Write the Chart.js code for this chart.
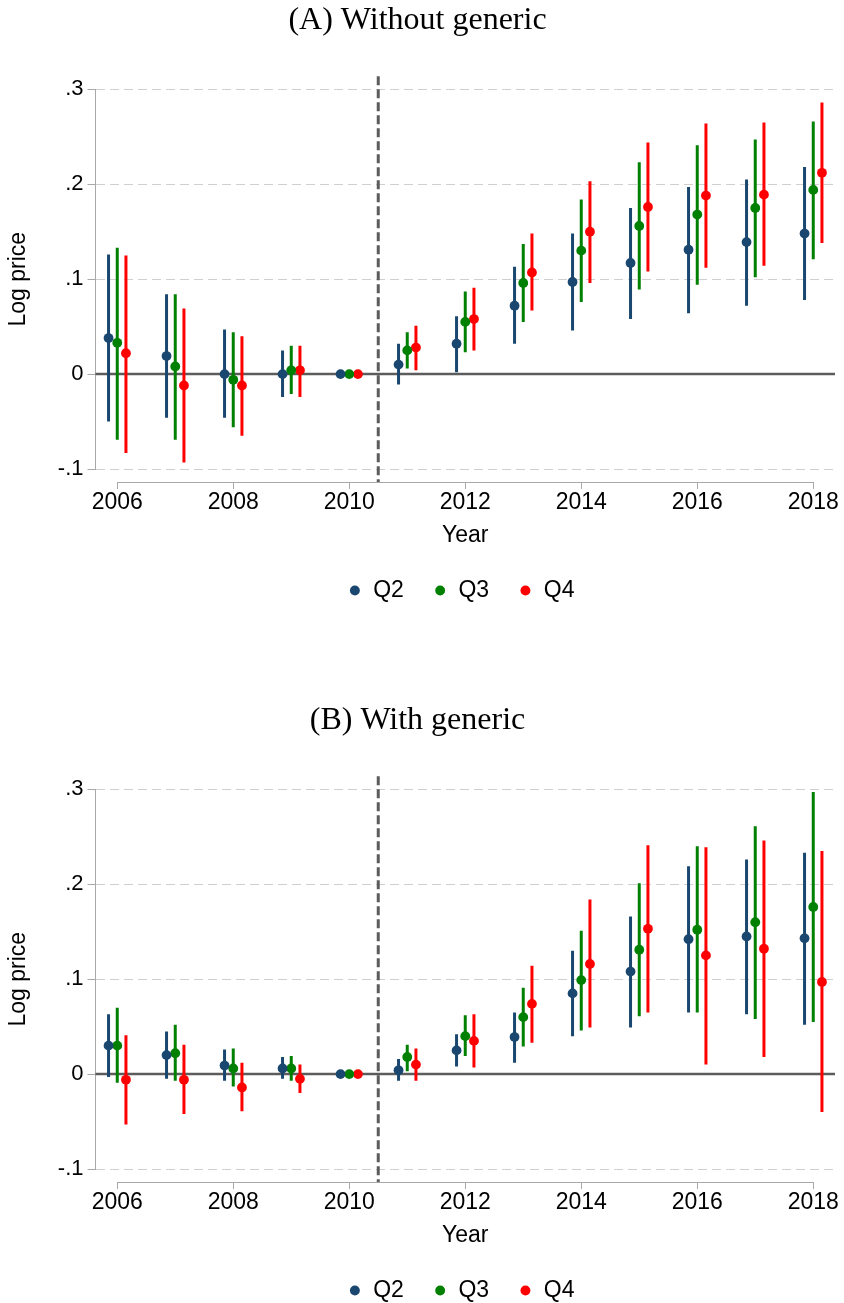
<!DOCTYPE html>
<html>
<head>
<meta charset="utf-8">
<title>Log price by quartile</title>
<script src="https://cdn.jsdelivr.net/npm/chart.js@4.4.1/dist/chart.umd.min.js"></script>
<style>
  html, body { margin: 0; padding: 0; background: #ffffff; width: 844px; height: 1303px; overflow: hidden; }
  #page { position: relative; width: 844px; height: 1303px; overflow: hidden; }
  .panel { position: absolute; left: 0; width: 844px; height: 612px; }
</style>
</head>
<body>
<div id="page">
  <div class="panel" style="top:0"><canvas id="chartA" width="844" height="612"></canvas></div>
  <div class="panel" style="top:700px"><canvas id="chartB" width="844" height="612"></canvas></div>
</div>
<script>
// ---- data -------------------------------------------------------------
const years = [2006, 2007, 2008, 2009, 2010, 2011, 2012, 2013, 2014, 2015, 2016, 2017, 2018];
const xTickValues = [2006, 2008, 2010, 2012, 2014, 2016, 2018];
const yTickValues = [-0.1, 0, 0.1, 0.2, 0.3];
const yTickLabels = ['-.1', '0', '.1', '.2', '.3'];
const seriesNames = ['Q2', 'Q3', 'Q4'];
const panelTitles = ['(A) Without generic', '(B) With generic'];
const referenceYear = 2010.5;   // vertical break line
const zeroLevel = 0;

// (A) Without generic: point estimates and 95% bounds (2010 is the base year)
const A_Q2_est = [0.038, 0.019, 0.000, 0.000, 0.000, 0.010, 0.032, 0.072, 0.097, 0.117, 0.131, 0.139, 0.148];
const A_Q2_lo  = [-0.050, -0.046, -0.046, -0.024, null, -0.011, 0.002, 0.032, 0.046, 0.058, 0.064, 0.072, 0.078];
const A_Q2_hi  = [0.126, 0.084, 0.047, 0.025, null, 0.032, 0.061, 0.113, 0.148, 0.175, 0.197, 0.205, 0.218];
const A_Q3_est = [0.033, 0.008, -0.006, 0.004, 0.000, 0.025, 0.055, 0.096, 0.130, 0.156, 0.168, 0.175, 0.194];
const A_Q3_lo  = [-0.069, -0.069, -0.056, -0.021, null, 0.006, 0.023, 0.055, 0.076, 0.089, 0.094, 0.102, 0.121];
const A_Q3_hi  = [0.133, 0.084, 0.044, 0.030, null, 0.044, 0.087, 0.137, 0.184, 0.223, 0.241, 0.247, 0.266];
const A_Q4_est = [0.022, -0.012, -0.012, 0.004, 0.000, 0.028, 0.058, 0.107, 0.150, 0.176, 0.188, 0.189, 0.212];
const A_Q4_lo  = [-0.083, -0.093, -0.065, -0.024, null, 0.004, 0.025, 0.067, 0.096, 0.108, 0.112, 0.114, 0.138];
const A_Q4_hi  = [0.125, 0.069, 0.040, 0.030, null, 0.051, 0.091, 0.148, 0.203, 0.244, 0.264, 0.265, 0.286];

// (B) With generic
const B_Q2_est = [0.030, 0.020, 0.009, 0.006, 0.000, 0.004, 0.025, 0.039, 0.085, 0.108, 0.142, 0.145, 0.143];
const B_Q2_lo  = [-0.003, -0.005, -0.007, -0.005, null, -0.007, 0.008, 0.012, 0.040, 0.049, 0.065, 0.063, 0.052];
const B_Q2_hi  = [0.063, 0.045, 0.026, 0.018, null, 0.016, 0.042, 0.065, 0.130, 0.166, 0.219, 0.226, 0.233];
const B_Q3_est = [0.030, 0.022, 0.006, 0.006, 0.000, 0.018, 0.040, 0.060, 0.099, 0.131, 0.152, 0.160, 0.176];
const B_Q3_lo  = [-0.009, -0.007, -0.013, -0.007, null, 0.003, 0.019, 0.029, 0.046, 0.061, 0.065, 0.058, 0.055];
const B_Q3_hi  = [0.070, 0.052, 0.027, 0.019, null, 0.031, 0.062, 0.091, 0.151, 0.201, 0.240, 0.261, 0.297];
const B_Q4_est = [-0.006, -0.006, -0.014, -0.005, 0.000, 0.010, 0.035, 0.074, 0.116, 0.153, 0.125, 0.132, 0.097];
const B_Q4_lo  = [-0.053, -0.042, -0.039, -0.020, null, -0.007, 0.007, 0.033, 0.049, 0.065, 0.010, 0.018, -0.040];
const B_Q4_hi  = [0.041, 0.031, 0.012, 0.010, null, 0.027, 0.063, 0.114, 0.184, 0.241, 0.239, 0.246, 0.235];

// ---- styling ------------------------------------------------------------
const seriesColors = ['#1a476f', '#008000', '#ff0000'];
const seriesShift = [-0.15, 0, 0.15];   // horizontal dodge within a year
const axisGray = '#a8a8a8';
const refGray = '#5c5c5c';
const SANS = "'Liberation Sans', Arial, sans-serif";
const SERIF = "'Liberation Serif', 'Times New Roman', serif";

Chart.defaults.font.family = SANS;
Chart.defaults.color = '#000000';

// Interval whiskers: one segment per year, broken by null points
function intervalPoints(shift, lo, hi) {
  const pts = [];
  years.forEach((yr, i) => {
    if (lo[i] === null || hi[i] === null) return;
    pts.push({ x: yr + shift, y: lo[i] }, { x: yr + shift, y: hi[i] }, { x: yr + shift, y: null });
  });
  return pts;
}
function estimatePoints(shift, est) {
  return years.map((yr, i) => ({ x: yr + shift, y: est[i] }));
}

function buildDatasets(groups) {
  const sets = [];
  groups.forEach((g, k) => {
    sets.push({
      type: 'line',
      label: seriesNames[k] + ' interval',
      data: intervalPoints(seriesShift[k], g.lo, g.hi),
      borderColor: seriesColors[k],
      backgroundColor: seriesColors[k],
      borderWidth: 3,
      borderCapStyle: 'butt',
      pointRadius: 0,
      spanGaps: false,
      fill: false,
      tension: 0,
      order: 2
    });
  });
  groups.forEach((g, k) => {
    sets.push({
      type: 'line',
      label: seriesNames[k],
      data: estimatePoints(seriesShift[k], g.est),
      showLine: false,
      borderColor: seriesColors[k],
      backgroundColor: seriesColors[k],
      pointBackgroundColor: seriesColors[k],
      pointBorderColor: seriesColors[k],
      pointBorderWidth: 0,
      borderWidth: 0,
      pointRadius: 4.9,
      pointStyle: 'circle',
      order: 1
    });
  });
  return sets;
}

// Axis lines, zero line and the dashed break line
const frameLines = {
  id: 'frameLines',
  beforeDatasetsDraw(chart) {
    const { ctx, chartArea: a, scales: { x, y } } = chart;
    ctx.save();
    ctx.strokeStyle = axisGray;
    ctx.lineWidth = 1;
    ctx.beginPath();
    const axX = a.left;
    ctx.moveTo(axX, y.getPixelForValue(yTickValues[yTickValues.length - 1]));
    ctx.lineTo(axX, y.getPixelForValue(yTickValues[0]));
    const axY = Math.round(a.bottom) + 0.5;
    ctx.moveTo(x.getPixelForValue(xTickValues[0]), axY);
    ctx.lineTo(x.getPixelForValue(xTickValues[xTickValues.length - 1]), axY);
    ctx.stroke();

    ctx.strokeStyle = refGray;
    ctx.lineWidth = 2.5;
    ctx.beginPath();
    const zy = y.getPixelForValue(zeroLevel);
    ctx.moveTo(a.left, zy);
    ctx.lineTo(a.right, zy);
    ctx.stroke();

    ctx.lineWidth = 3;
    ctx.setLineDash([9, 4]);
    ctx.beginPath();
    const bx = x.getPixelForValue(referenceYear);
    ctx.moveTo(bx, a.top);
    ctx.lineTo(bx, a.bottom);
    ctx.stroke();
    ctx.restore();
  }
};

// Keep the legend centred under the plotting region
const legendUnderPlot = {
  id: 'legendUnderPlot',
  afterLayout(chart) {
    const lg = chart.legend;
    const a = chart.chartArea;
    if (!lg) return;
    lg.left = a.left - 4;
    lg.right = a.right - 4;
    lg.width = lg.right - lg.left;
  }
};

function makePanel(canvasId, title, groups) {
  return new Chart(document.getElementById(canvasId), {
    type: 'line',
    data: { datasets: buildDatasets(groups) },
    plugins: [frameLines, legendUnderPlot],
    options: {
      responsive: false,
      animation: false,
      events: [],
      layout: { padding: { left: 0, right: 9, top: 0, bottom: 0 } },
      plugins: {
        tooltip: { enabled: false },
        title: {
          display: true,
          text: title,
          color: '#000000',
          font: { family: SERIF, size: 32, weight: 'normal' },
          padding: { top: 1.6, bottom: 36.3 }
        },
        legend: {
          display: true,
          position: 'bottom',
          align: 'center',
          labels: {
            usePointStyle: true,
            boxWidth: 13.6,
            boxHeight: 7,
            padding: 29.5,
            color: '#000000',
            font: { family: SANS, size: 23 },
            filter: (item) => seriesNames.includes(item.text)
          }
        }
      },
      scales: {
        x: {
          type: 'linear',
          min: 2005.625,
          max: 2018.375,
          afterBuildTicks: (scale) => { scale.ticks = xTickValues.map(v => ({ value: v })); },
          ticks: {
            autoSkip: false,
            maxRotation: 0,
            padding: 0,
            color: '#000000',
            font: { family: SANS, size: 23 },
            callback: (v) => String(v)
          },
          grid: {
            display: true,
            drawOnChartArea: false,
            drawTicks: true,
            tickLength: 7,
            tickColor: axisGray,
            tickWidth: 1
          },
          border: { display: false },
          title: {
            display: true,
            text: 'Year',
            color: '#000000',
            font: { family: SANS, size: 23 },
            padding: { top: 5.3, bottom: 0 }
          }
        },
        y: {
          type: 'linear',
          min: -0.1136,
          max: 0.3136,
          afterBuildTicks: (scale) => { scale.ticks = yTickValues.map(v => ({ value: v })); },
          afterFit: (scale) => { scale.width = 95.5; },
          ticks: {
            autoSkip: false,
            padding: 4,
            color: '#000000',
            font: { family: SANS, size: 22 },
            callback: (v) => yTickLabels[yTickValues.indexOf(v)]
          },
          grid: {
            display: true,
            color: '#cfcfcf',
            lineWidth: 1,
            drawTicks: true,
            tickLength: 8,
            tickColor: axisGray,
            tickWidth: 1,
            tickBorderDash: []
          },
          border: { display: false, dash: [9, 5] },
          title: {
            display: true,
            text: 'Log price',
            color: '#000000',
            font: { family: SANS, size: 23 },
            padding: { top: 5.2, bottom: 0 }
          }
        }
      }
    }
  });
}

makePanel('chartA', panelTitles[0], [
  { est: A_Q2_est, lo: A_Q2_lo, hi: A_Q2_hi },
  { est: A_Q3_est, lo: A_Q3_lo, hi: A_Q3_hi },
  { est: A_Q4_est, lo: A_Q4_lo, hi: A_Q4_hi }
]);
makePanel('chartB', panelTitles[1], [
  { est: B_Q2_est, lo: B_Q2_lo, hi: B_Q2_hi },
  { est: B_Q3_est, lo: B_Q3_lo, hi: B_Q3_hi },
  { est: B_Q4_est, lo: B_Q4_lo, hi: B_Q4_hi }
]);
</script>
</body>
</html>
